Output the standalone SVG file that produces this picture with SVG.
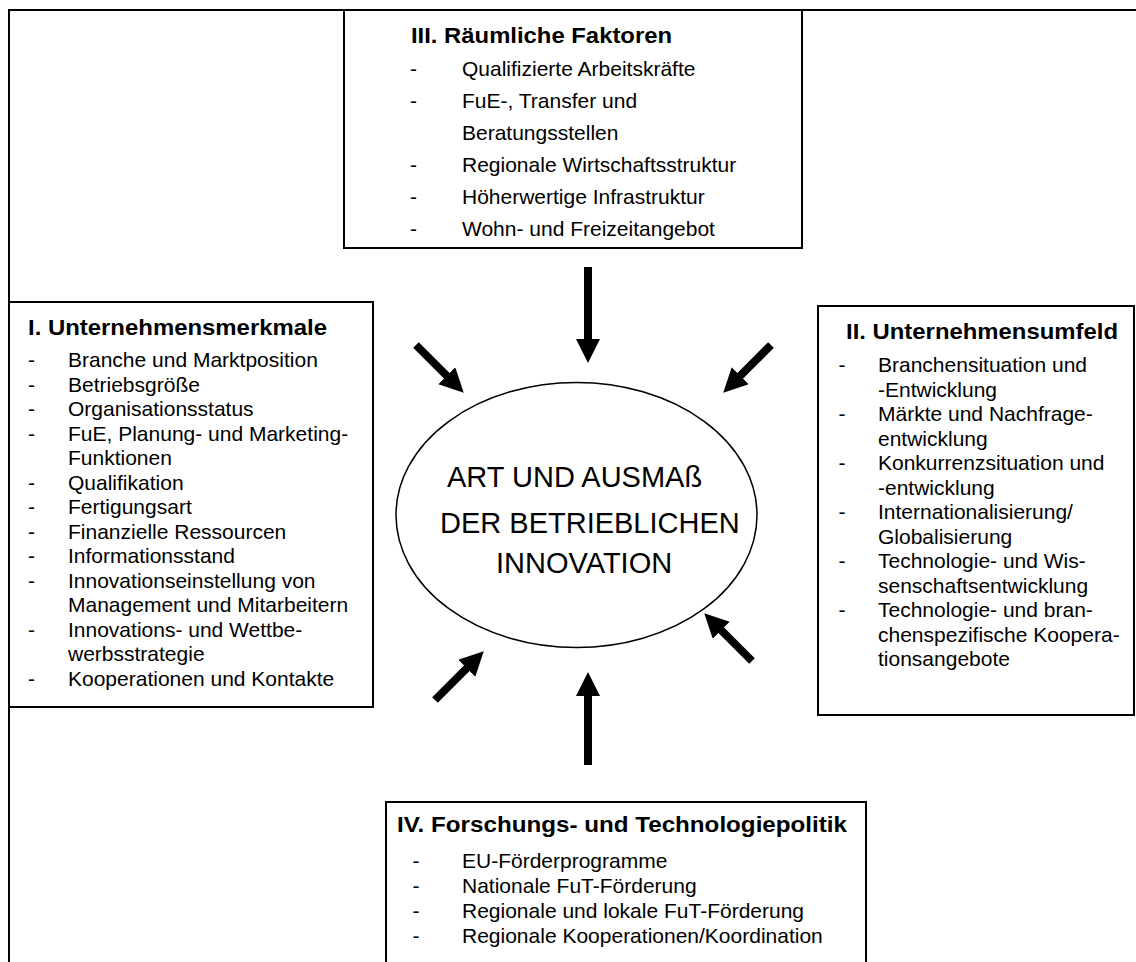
<svg xmlns="http://www.w3.org/2000/svg" width="1136" height="962" viewBox="0 0 1136 962">
<style>
.box{fill:#fff;stroke:#000;stroke-width:2}
.t{font-family:"Liberation Sans",Arial,sans-serif;font-size:21px;fill:#000}
.h{font-family:"Liberation Sans",Arial,sans-serif;font-size:22px;font-weight:bold;fill:#000}
.c{font-family:"Liberation Sans",Arial,sans-serif;font-size:29px;fill:#000}
.arr{stroke:#000;stroke-width:8;fill:none;marker-end:url(#ah)}
</style>
<defs>
<marker id="ah" markerUnits="userSpaceOnUse" markerWidth="26" markerHeight="26" refX="1" refY="12" orient="auto">
<path d="M0,0 L24,12 L0,24 Z" fill="#000"/>
</marker>
</defs>
<rect width="1136" height="962" fill="#fff"/>
<g id="frame">
<path d="M9,962 V10 H1136" fill="none" stroke="#000" stroke-width="2"/>
</g>
<g id="box3">
<rect class="box" x="344" y="10" width="458" height="238"/>
<text class="h" x="411" y="43" textLength="261" lengthAdjust="spacingAndGlyphs">III. Räumliche Faktoren</text>
<text class="t" x="410" y="76">-</text><text class="t" x="462" y="76">Qualifizierte Arbeitskräfte</text>
<text class="t" x="410" y="108">-</text><text class="t" x="462" y="108">FuE-, Transfer und</text>
<text class="t" x="462" y="140">Beratungsstellen</text>
<text class="t" x="410" y="172">-</text><text class="t" x="462" y="172">Regionale Wirtschaftsstruktur</text>
<text class="t" x="410" y="204">-</text><text class="t" x="462" y="204">Höherwertige Infrastruktur</text>
<text class="t" x="410" y="236">-</text><text class="t" x="462" y="236">Wohn- und Freizeitangebot</text>
</g>
<g id="box1">
<rect class="box" x="9" y="302" width="364" height="405"/>
<text class="h" x="28" y="335" textLength="299" lengthAdjust="spacingAndGlyphs">I. Unternehmensmerkmale</text>
<text class="t" x="28" y="367">-</text><text class="t" x="68" y="367">Branche und Marktposition</text>
<text class="t" x="28" y="391.5">-</text><text class="t" x="68" y="391.5">Betriebsgröße</text>
<text class="t" x="28" y="416">-</text><text class="t" x="68" y="416">Organisationsstatus</text>
<text class="t" x="28" y="440.5">-</text><text class="t" x="68" y="440.5">FuE, Planung- und Marketing-</text>
<text class="t" x="68" y="465">Funktionen</text>
<text class="t" x="28" y="489.5">-</text><text class="t" x="68" y="489.5">Qualifikation</text>
<text class="t" x="28" y="514">-</text><text class="t" x="68" y="514">Fertigungsart</text>
<text class="t" x="28" y="538.5">-</text><text class="t" x="68" y="538.5">Finanzielle Ressourcen</text>
<text class="t" x="28" y="563">-</text><text class="t" x="68" y="563">Informationsstand</text>
<text class="t" x="28" y="587.5">-</text><text class="t" x="68" y="587.5">Innovationseinstellung von</text>
<text class="t" x="68" y="612">Management und Mitarbeitern</text>
<text class="t" x="28" y="636.5">-</text><text class="t" x="68" y="636.5">Innovations- und Wettbe-</text>
<text class="t" x="68" y="661">werbsstrategie</text>
<text class="t" x="28" y="685.5">-</text><text class="t" x="68" y="685.5">Kooperationen und Kontakte</text>
</g>
<g id="box2">
<rect class="box" x="818" y="306" width="316" height="409"/>
<text class="h" x="846" y="339" textLength="272" lengthAdjust="spacingAndGlyphs">II. Unternehmensumfeld</text>
<text class="t" x="838.5" y="372">-</text><text class="t" x="878" y="372">Branchensituation und</text>
<text class="t" x="878" y="396.5">-Entwicklung</text>
<text class="t" x="838.5" y="421">-</text><text class="t" x="878" y="421">Märkte und Nachfrage-</text>
<text class="t" x="878" y="445.5">entwicklung</text>
<text class="t" x="838.5" y="470">-</text><text class="t" x="878" y="470">Konkurrenzsituation und</text>
<text class="t" x="878" y="494.5">-entwicklung</text>
<text class="t" x="838.5" y="519">-</text><text class="t" x="878" y="519">Internationalisierung/</text>
<text class="t" x="878" y="543.5">Globalisierung</text>
<text class="t" x="838.5" y="568">-</text><text class="t" x="878" y="568">Technologie- und Wis-</text>
<text class="t" x="878" y="592.5">senschaftsentwicklung</text>
<text class="t" x="838.5" y="617">-</text><text class="t" x="878" y="617">Technologie- und bran-</text>
<text class="t" x="878" y="641.5">chenspezifische Koopera-</text>
<text class="t" x="878" y="666">tionsangebote</text>
</g>
<g id="box4">
<path class="box" d="M386,962 V802 H866 V962"/>
<text class="h" x="397" y="832" textLength="450" lengthAdjust="spacingAndGlyphs">IV. Forschungs- und Technologiepolitik</text>
<text class="t" x="412.5" y="868">-</text><text class="t" x="462" y="868">EU-Förderprogramme</text>
<text class="t" x="412.5" y="893">-</text><text class="t" x="462" y="893">Nationale FuT-Förderung</text>
<text class="t" x="412.5" y="918">-</text><text class="t" x="462" y="918">Regionale und lokale FuT-Förderung</text>
<text class="t" x="412.5" y="942.5">-</text><text class="t" x="462" y="942.5">Regionale Kooperationen/Koordination</text>
</g>
<g id="center">
<ellipse cx="576.5" cy="515" rx="180.5" ry="132.5" fill="#fff" stroke="#000" stroke-width="1.5"/>
<text class="c" x="447" y="487">ART UND AUSMAß</text>
<text class="c" x="440" y="532.5">DER BETRIEBLICHEN</text>
<text class="c" x="496" y="573">INNOVATION</text>
</g>
<g id="connectors">
<line class="arr" x1="588" y1="267" x2="588" y2="340"/>
<line class="arr" x1="588" y1="765" x2="588" y2="695"/>
<line class="arr" x1="416" y1="345" x2="447.5" y2="376.5"/>
<line class="arr" x1="771" y1="345" x2="739.5" y2="376.5"/>
<line class="arr" x1="752" y1="661" x2="720.5" y2="629.5"/>
<line class="arr" x1="435" y1="700" x2="467.5" y2="667.5"/>
</g>
</svg>
